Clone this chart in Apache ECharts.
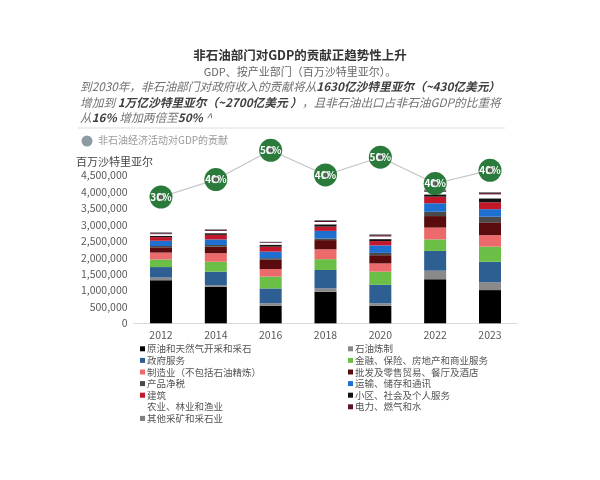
<!DOCTYPE html>
<html><head><meta charset="utf-8">
<script src="https://cdn.jsdelivr.net/npm/echarts@6/dist/echarts.min.js"></script>
<style>html,body{margin:0;padding:0;background:#fff}#c{width:600px;height:480px}</style>
</head><body><div id="c"></div>
<script>
const years = ['2012','2014','2016','2018','2020','2022','2023'];
const sectorNames = ['原油和天然气开采和采石','石油炼制','政府服务','金融、保险、房地产和商业服务','制造业（不包括石油精炼）','批发及零售贸易、餐厅及酒店','产品净税','运输、储存和通讯','建筑','小区、社会及个人服务','农业、林业和渔业','电力、燃气和水','其他采矿和采石业'];
const crudeOil     = [1310000,1110000, 530000, 960000, 530000,1340000,1010000];
const refining     = [  80000,  50000,  80000, 100000,  80000, 260000, 240000];
const government   = [ 320000, 410000, 450000, 560000, 560000, 600000, 620000];
const finance      = [ 230000, 300000, 360000, 330000, 400000, 350000, 460000];
const manufacturing= [ 210000, 260000, 230000, 300000, 250000, 360000, 350000];
const wholesale    = [ 160000, 200000, 280000, 280000, 250000, 350000, 390000];
const netTaxes     = [  40000,  50000,  50000,  50000,  70000, 130000, 170000];
const transport    = [ 160000, 170000, 200000, 230000, 230000, 260000, 230000];
const construction = [ 110000, 140000, 150000, 130000, 130000, 200000, 210000];
const community    = [  40000,  50000,  60000,  70000,  60000,  70000, 120000];
const agriculture  = [  50000,  70000,  50000,  70000,  80000,  80000, 120000];
const electricity  = [  30000,  35000,  25000,  30000,  40000,  40000,  40000];
const otherMining  = [  30000,  20000,  15000,  30000,  30000,  30000,  30000];
const sectorValues = [crudeOil,refining,government,finance,manufacturing,wholesale,netTaxes,transport,construction,community,agriculture,electricity,otherMining];
const sectorColors = ['#000000','#8a8a8a','#2e5f93','#6cbf46','#ec6a6c','#5a0b0e','#4a4a4a','#1f6fd1','#c3182c','#111111','#ffffff','#5e1232','#7f7f7f'];
const nonOilLinePos = [38.4, 43.7, 52.6, 45.1, 50.5, 42.5, 46.5];
const nonOilLabels = ['30%','40%','50%','40%','50%','40%','40%'];
const yTicks = [0,500000,1000000,1500000,2000000,2500000,3000000,3500000,4000000,4500000];

const font = '"Noto Sans CJK SC","Noto Sans",sans-serif';
const chart = echarts.init(document.getElementById('c'));
const series = sectorNames.map((n,i)=>({
  name:n, type:'bar', stack:'gdp', data:sectorValues[i], barWidth:22,
  itemStyle:{color:sectorColors[i]}
}));
series.push({
  name:'非石油经济活动对GDP的贡献', type:'line', yAxisIndex:1, data:nonOilLinePos,
  lineStyle:{color:'#c4c4c4', width:1.2}, symbol:'circle', symbolSize:23,
  itemStyle:{color:'#2a7a3c'}, z:5,
  label:{show:true, position:'inside', color:'#fff', fontWeight:'bold', fontSize:10, fontFamily:font,
    formatter:p=>nonOilLabels[p.dataIndex]}
});
series.push({
  type:'scatter', yAxisIndex:1, data:nonOilLinePos, symbolSize:6, z:6,
  itemStyle:{color:'#3d4a40', borderColor:'#ffffff', borderWidth:1.5}, silent:true
});
const leftNames = sectorNames.filter((n,i)=>i%2===0);
const rightNames = sectorNames.filter((n,i)=>i%2===1);
const legendBase = {orient:'vertical', top:338, itemWidth:5, itemHeight:5, itemGap:0, icon:'rect',
  textStyle:{fontFamily:font, fontSize:9.5, color:'#555', lineHeight:11.6, padding:[0,0,0,-3]}, selectedMode:false};
chart.setOption({
  animation:false,
  textStyle:{fontFamily:font},
  grid:{left:133.6, right:82.6, top:142.4, bottom:156.7, containLabel:false},
  legend:[Object.assign({data:leftNames, left:135},legendBase), Object.assign({data:rightNames, left:343},legendBase)],
  xAxis:{type:'category', data:years,
    axisLine:{lineStyle:{color:'#d9d9d9'}}, axisTick:{show:false},
    axisLabel:{color:'#595959', fontSize:10.5, margin:6}},
  yAxis:[{type:'value', min:0, max:5500000, interval:500000,
    axisLine:{show:false}, axisTick:{show:false}, splitLine:{show:false},
    axisLabel:{color:'#595959', fontSize:10.5, margin:6,
      formatter:v=> yTicks.indexOf(v)>=0 ? v.toLocaleString('en-US') : ''}},
    {type:'value', min:0, max:55, show:false}],
  graphic:[
    {type:'text', left:'center', top:49, style:{text:'非石油部门对GDP的贡献正趋势性上升', fontFamily:font, fontSize:12.5, fontWeight:'bold', fill:'#333'}},
    {type:'text', left:'center', top:66, style:{text:'GDP、按产业部门（百万沙特里亚尔）。', fontFamily:font, fontSize:11, fill:'#666'}},
    {type:'text', left:80, top:81, style:{
      text:'{n|到2030年，非石油部门对政府收入的贡献将从}{b|1630亿沙特里亚尔（~430亿美元）}\n{n|增加到 }{b|1万亿沙特里亚尔（~2700亿美元 ）}{n|，且非石油出口占非石油GDP的比重将}\n{n|从}{b|16%}{n| 增加两倍至}{b|50%}{n| ^}',
      rich:{
        n:{fontFamily:font, fontStyle:'italic', fontSize:11.7, fill:'#707070', lineHeight:15.5},
        b:{fontFamily:font, fontStyle:'italic', fontWeight:'bold', fontSize:11.7, fill:'#404040', lineHeight:15.5}
      }}},
    {type:'line', shape:{x1:78,y1:128,x2:505,y2:128}, style:{stroke:'#dddddd', lineWidth:1}},
    {type:'circle', shape:{cx:87, cy:141, r:5.5}, style:{fill:'#8d9ba4'}},
    {type:'text', left:98, top:135, style:{text:'非石油经济活动对GDP的贡献', fontFamily:font, fontSize:10, fill:'#999'}},
    {type:'text', left:76, top:156, style:{text:'百万沙特里亚尔', fontFamily:font, fontSize:11, fill:'#444'}}
  ],
  series:series
});
</script></body></html>
